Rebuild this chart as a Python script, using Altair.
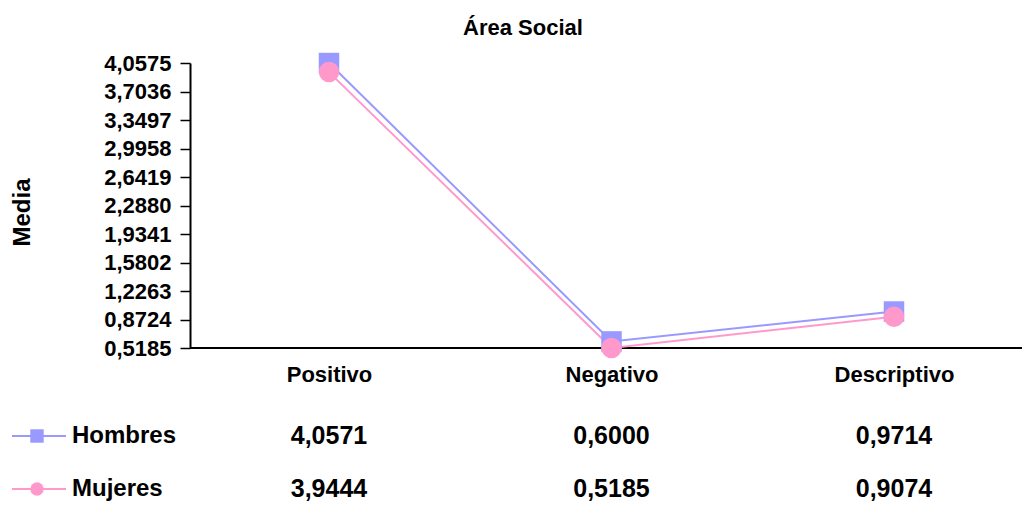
import altair as alt
import pandas as pd

chart_title = ["Área Social"]
categories = ["Positivo", "Negativo", "Descriptivo"]
series_names = ["Hombres", "Mujeres"]
hombres = [4.0571, 0.6000, 0.9714]
mujeres = [3.9444, 0.5185, 0.9074]
y_ticks = [0.5185, 0.8724, 1.2263, 1.5802, 1.9341, 2.2880, 2.6419,
           2.9958, 3.3497, 3.7036, 4.0575]
colors = ["#9999FF", "#FF99CC"]
shapes = ["square", "circle"]

FONT = "Liberation Sans"
W, H = 832, 285

rows = []
for s, vals in zip(series_names, [hombres, mujeres]):
    for c, v in zip(categories, vals):
        rows.append({"serie": s, "categoria": c, "media": v,
                     "texto": f"{v:.4f}".replace(".", ",")})
df = pd.DataFrame(rows)
legend_df = pd.DataFrame({"serie": series_names})
base_df = pd.DataFrame({"media": [y_ticks[0]]})
title_df = pd.DataFrame({"t": chart_title})

x_enc = alt.X("categoria:N", sort=categories,
              scale=alt.Scale(type="point", range=[139, 704], padding=0),
              axis=alt.Axis(title=None, domain=False, ticks=False, labelAngle=0,
                            labelFont=FONT, labelFontSize=22, labelFontWeight="bold",
                            labelColor="black", labelPadding=16, grid=False))
y_enc = alt.Y("media:Q",
              scale=alt.Scale(domain=[y_ticks[0], y_ticks[-1]], nice=False, zero=False),
              axis=alt.Axis(values=y_ticks, grid=False,
                            labelExpr="replace(format(datum.value, '.4f'), '.', ',')",
                            labelFont=FONT, labelFontSize=22, labelFontWeight="bold",
                            labelColor="black", labelPadding=9,
                            tickColor="black", tickSize=10, tickWidth=1.5,
                            domainColor="black", domainWidth=2,
                            title="Media", titleFont=FONT, titleFontSize=24,
                            titleFontWeight="bold", titleColor="black",
                            titleX=-156, titleY=149, titleAngle=-90))
color_enc = alt.Color("serie:N", scale=alt.Scale(domain=series_names, range=colors), legend=None)
shape_enc = alt.Shape("serie:N", scale=alt.Scale(domain=series_names, range=shapes), legend=None)

base = alt.Chart(df)
lines = base.mark_line(strokeWidth=2).encode(x=x_enc, y=y_enc, color=color_enc, detail="serie:N")
points = base.mark_point(filled=True, size=420, opacity=1).encode(
    x=x_enc, y=y_enc, color=color_enc, shape=shape_enc)
baseline = alt.Chart(base_df).mark_rule(color="black", strokeWidth=2).encode(
    y=y_enc, x=alt.value(0), x2=alt.value(W))

main = alt.layer(baseline, lines, points)

ty = alt.Y("serie:N", scale=alt.Scale(type="point", domain=series_names,
                                      range=[373, 426], padding=0),
           axis=None)
table_text = alt.Chart(df).mark_text(font=FONT, fontSize=25, fontWeight="bold",
                                     color="black").encode(x=x_enc, y=ty, text="texto:N")
leg_rule = alt.Chart(legend_df).mark_rule(strokeWidth=2).encode(
    x=alt.value(-178), x2=alt.value(-124), y=ty, color=color_enc)
leg_pts = alt.Chart(legend_df).mark_point(filled=True, size=180, opacity=1).encode(
    x=alt.value(-153), y=ty, color=color_enc, shape=shape_enc)
leg_text = alt.Chart(legend_df).mark_text(font=FONT, fontSize=24, fontWeight="bold",
                                          color="black", align="left").encode(
    x=alt.value(-118), y=ty, text="serie:N")
title_mark = alt.Chart(title_df).mark_text(font=FONT, fontSize=22, fontWeight="bold",
                                           color="black", align="center",
                                           baseline="alphabetic").encode(
    x=alt.value(333), y=alt.value(-28), text="t:N")
table = alt.layer(table_text, leg_rule, leg_pts, leg_text, title_mark)

chart = alt.layer(main, table).resolve_scale(y="independent").properties(
    width=W, height=H,
    autosize=alt.AutoSizeParams(type="none"),
    padding={"left": 182, "top": 55, "right": 0, "bottom": 158},
).configure_view(stroke=None)

chart.save("out.html", embed_options={"renderer": "svg", "actions": False})
